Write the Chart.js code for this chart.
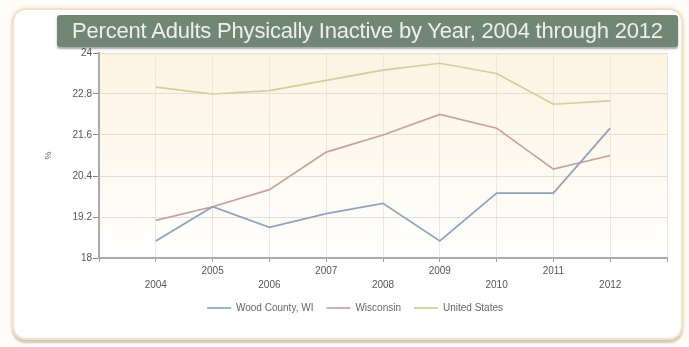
<!DOCTYPE html>
<html>
<head>
<meta charset="utf-8">
<script src="https://cdn.jsdelivr.net/npm/chart.js@4.4.1/dist/chart.umd.min.js"></script>
<style>
  html, body { margin: 0; padding: 0; background: #fffdf9; }
  body { width: 689px; height: 347px; position: relative; overflow: hidden; font-family: "Liberation Sans", Arial, sans-serif; }
  #frame {
    position: absolute; left: 12px; top: 8px; width: 667px; height: 328px;
    border: 2px solid #f3e0c8; border-radius: 14px; background: #fff;
    box-shadow: 0 0 5px rgba(240, 205, 160, 0.6), 0 3px 2px rgba(150, 140, 120, 0.45);
  }
  #wrap { position: absolute; left: 0; top: 0; width: 689px; height: 347px; }
  #title {
    position: absolute; left: 57px; top: 15px; width: 621px; height: 32px;
    background: #728676; color: #eef0ec; font-size: 22px; line-height: 32px;
    text-align: center; border-radius: 3px; letter-spacing: -0.2px;
    box-shadow: 0 2px 2px rgba(60, 70, 60, 0.45);
  }
</style>
</head>
<body>
<div id="frame"></div>
<div id="wrap"><canvas id="chart" width="689" height="347"></canvas></div>
<div id="title">Percent Adults Physically Inactive by Year, 2004 through 2012</div>
<script>
const years = [2004, 2005, 2006, 2007, 2008, 2009, 2010, 2011, 2012];
const woodCounty = [18.5, 19.5, 18.9, 19.3, 19.6, 18.5, 19.9, 19.9, 21.8];
const wisconsin = [19.1, 19.5, 20.0, 21.1, 21.6, 22.2, 21.8, 20.6, 21.0];
const unitedStates = [23.0, 22.8, 22.9, 23.2, 23.5, 23.7, 23.4, 22.5, 22.6];
const seriesNames = ['Wood County, WI', 'Wisconsin', 'United States'];
const yTicks = [18, 19.2, 20.4, 21.6, 22.8, 24];

function points(values) {
    return years.map((year, i) => ({ x: year, y: values[i] }));
}

// cream-to-white fill behind the plot
const plotBackground = {
    id: 'plotBackground',
    beforeInit(chart) {
        // fixed legend band under the axis
        const fit = chart.legend.fit;
        chart.legend.fit = function () {
            fit.call(this);
            this.height = 57;
        };
    },
    beforeDraw(chart) {
        const { ctx, chartArea: a } = chart;
        const g = ctx.createLinearGradient(0, a.top, 0, a.bottom);
        g.addColorStop(0, '#fdf3e1');
        g.addColorStop(0.5, '#fef9f0');
        g.addColorStop(1, '#ffffff');
        ctx.save();
        ctx.fillStyle = g;
        ctx.fillRect(a.left, a.top, a.width, a.height);
        ctx.restore();
    }
};

const lineColors = ['#8fa2bb', '#c8a0a0', '#cfcf9e'];

new Chart(document.getElementById('chart'), {
    type: 'line',
    data: {
        datasets: [woodCounty, wisconsin, unitedStates].map((values, i) => ({
            label: seriesNames[i],
            data: points(values),
            borderColor: lineColors[i],
            backgroundColor: lineColors[i],
            borderWidth: 1.7,
            pointRadius: 0,
            tension: 0
        }))
    },
    options: {
        responsive: false,
        animation: false,
        layout: { padding: { left: 43, top: 53, right: 22, bottom: 0 } },
        plugins: {
            legend: {
                position: 'bottom',
                labels: {
                    usePointStyle: true,
                    pointStyle: 'line',
                    pointStyleWidth: 24,
                    padding: 13,
                    color: '#666',
                    font: { family: '"Liberation Sans", Arial, sans-serif', size: 10 }
                }
            },
            tooltip: { enabled: false }
        },
        scales: {
            x: {
                type: 'linear',
                min: 2003,
                max: 2013,
                afterBuildTicks: scale => {
                    scale.ticks = [2003].concat(years, [2013]).map(v => ({ value: v }));
                },
                afterFit: scale => { scale.height = 32; },
                ticks: {
                    autoSkip: false,
                    maxRotation: 0,
                    padding: 2,
                    color: '#555',
                    font: { family: '"Liberation Sans", Arial, sans-serif', size: 10, lineHeight: 1.4 },
                    callback: v => {
                        if (!years.includes(v)) return '';
                        return v % 2 ? [String(v), ''] : ['', String(v)];
                    }
                },
                grid: { color: '#ebe6de', tickColor: '#999', tickLength: 4 },
                border: { color: '#aaa', width: 2 }
            },
            y: {
                min: 18,
                max: 24,
                afterBuildTicks: scale => {
                    scale.ticks = yTicks.map(v => ({ value: v }));
                },
                afterFit: scale => { scale.width = 56; },
                ticks: {
                    padding: 1,
                    color: '#555',
                    font: { family: '"Liberation Sans", Arial, sans-serif', size: 10 },
                    callback: v => String(v)
                },
                title: {
                    display: true,
                    text: '%',
                    color: '#555',
                    padding: 0,
                    font: { family: '"Liberation Sans", Arial, sans-serif', size: 9 }
                },
                grid: { color: '#e4ded4', tickColor: '#888', tickLength: 6 },
                border: { color: '#aaa', width: 2 }
            }
        }
    },
    plugins: [plotBackground]
});
</script>
</body>
</html>
